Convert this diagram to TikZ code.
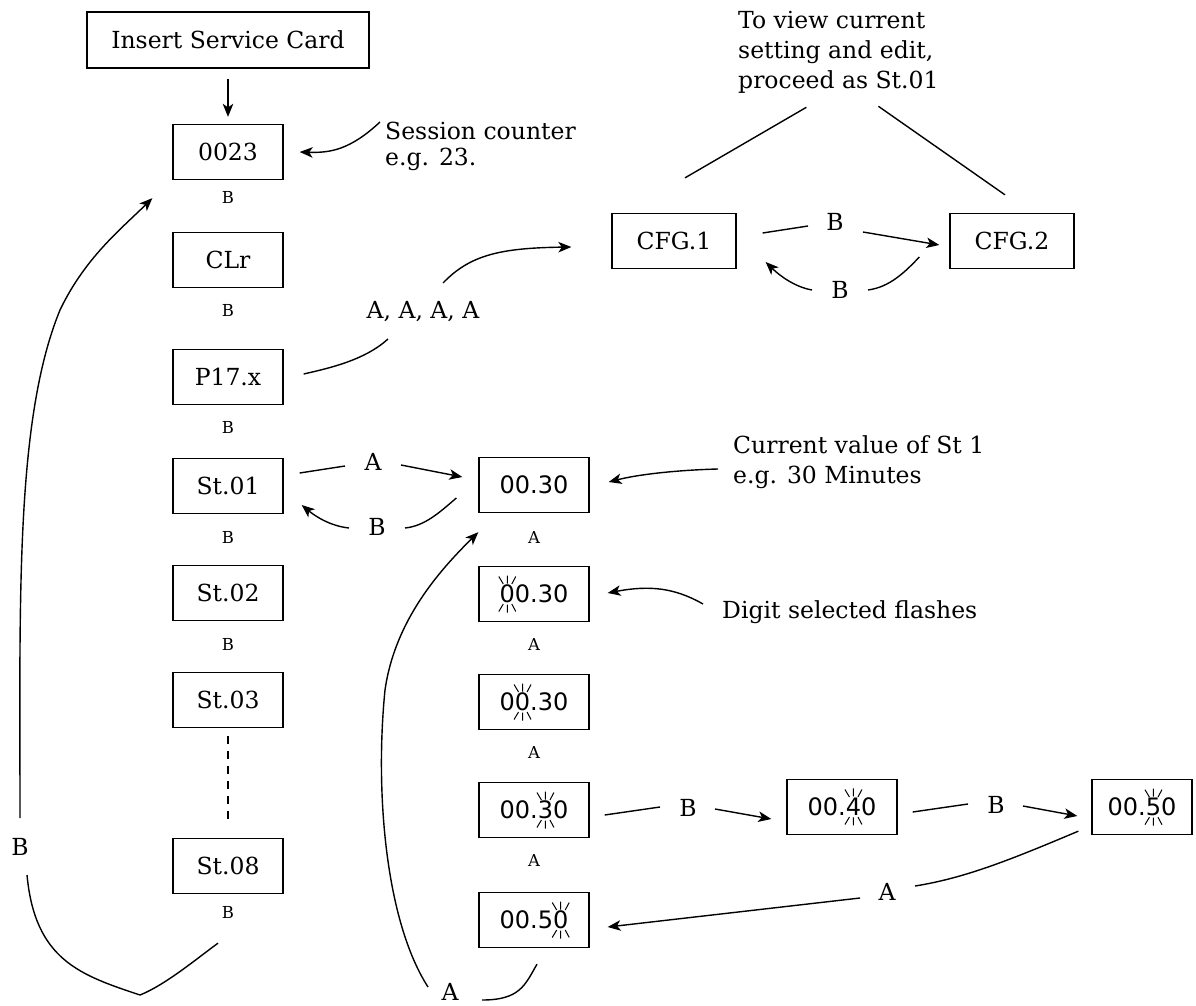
\documentclass[tikz,border=0pt]{standalone}
\usepackage{fontspec}
\setmainfont{DejaVu Serif}
\newfontfamily\dvsans{DejaVu Sans}
\usetikzlibrary{arrows.meta}
\newcommand\mytxt{\fontsize{23.5}{30}\selectfont}
\newcommand\mysmall{\fontsize{16.5}{18}\selectfont}
\newcommand\mydig{\dvsans\fontsize{24}{28}\selectfont}
\newcommand\flash[1]{\tikz[baseline=(fd.base),x=1pt,y=1pt]{\node[shape=rectangle,inner sep=0pt,outer sep=0pt,draw=none,fill=none,minimum width=0pt,minimum height=0pt,anchor=center](fd){#1};\draw[overlay,line width=1pt,shift={(fd.center)}] (-8.5,17.5)--(-4,10) (0,18.5)--(0,10.5) (8.5,17.5)--(4.5,10) (-8.5,-17.5)--(-4,-10) (0,-18.5)--(0,-10.5) (8.5,-17.5)--(4.5,-10);}}
\begin{document}
\begin{tikzpicture}[x=1pt,y=-1pt,
  box/.style={draw,line width=1.3pt,minimum width=110pt,minimum height=55pt,inner sep=0pt,font=\mytxt},
  dbox/.style={box,font=\mydig},
  txt/.style={font=\mytxt,inner sep=0pt},
  sm/.style={font=\mysmall,inner sep=0pt},
  conn/.style={line width=1.4pt},
  arr/.style={conn,-{Stealth[length=13pt,width=10.5pt,inset=3.5pt]}}]
\useasboundingbox (0,0) rectangle (1196,1006);
% left column
\node[box,minimum width=282pt,minimum height=56pt] (ins) at (228,40) {Insert Service Card};
\node[box] (c23) at (228,152) {0023};
\node[box] (clr) at (228,260) {CLr};
\node[box] (p17) at (228,377) {P17.x};
\node[box] (st1) at (228,486) {St.01};
\node[box] (st2) at (228,593) {St.02};
\node[box] (st3) at (228,700) {St.03};
\node[box] (st8) at (228,866) {St.08};
\node[sm] (bl1) at (228,197) {B};
\node[sm] (bl2) at (228,310) {B};
\node[sm] (bl3) at (228,427) {B};
\node[sm] (bl4) at (228,537) {B};
\node[sm] (bl5) at (228,644) {B};
\node[sm] (bl8) at (228,912) {B};
% right column
\node[dbox] (v1) at (534,485) {00.30};
\node[dbox] (v2) at (534,594) {\flash{0}0.30};
\node[dbox] (v3) at (534,702) {0\flash{0}.30};
\node[dbox] (v4) at (534,810) {00.\flash{3}0};
\node[dbox] (v5) at (534,920) {00.5\flash{0}};
\node[dbox] (r40) at (842,807) {00.\flash{4}0};
\node[dbox,minimum width=100pt] (r50) at (1142,807) {00.\flash{5}0};
\node[sm] (al1) at (534,537) {A};
\node[sm] (al2) at (534,644) {A};
\node[sm] (al3) at (534,752) {A};
\node[sm] (al4) at (534,860) {A};
% config
\node[box,minimum width=124pt] (cfg1) at (674,241) {CFG.1};
\node[box,minimum width=124pt] (cfg2) at (1012,241) {CFG.2};
% annotations
\node[txt,align=left,anchor=west,font=\fontsize{23.5}{26}\selectfont] (sess) at (385,146) {Session counter\\e.g. 23.};
\node[txt,align=left,anchor=west] (tov) at (738,52) {To view current\\setting and edit,\\proceed as St.01};
\node[txt,align=left,anchor=west] (cur) at (733,462) {Current value of St 1\\e.g. 30 Minutes};
\node[txt,anchor=west] (dig) at (722,612) {Digit selected flashes};
\node[txt] (aaaa) at (423,312) {A, A, A, A};
\node[txt] (eA1) at (373,462) {A};
\node[txt] (eB1) at (377,527) {B};
\node[txt] (cB1) at (835,222) {B};
\node[txt] (cB2) at (840,290) {B};
\node[txt] (rB1) at (688,808) {B};
\node[txt] (rB2) at (996,805) {B};
\node[txt] (rA) at (887,892) {A};
\node[txt] (bigA) at (450,992) {A};
\node[txt] (bigB) at (20,847) {B};
% connectors
\draw[arr] ([yshift=-10pt]ins.south) -- ([yshift=7pt]c23.north);
\draw[conn,dashed,dash pattern=on 8pt off 7pt] ([yshift=-8pt]st3.south) -- ([yshift=18pt]st8.north);
\draw[arr] ([shift={(-5,-24)}]sess.west) .. controls (350,150) and (330,153) .. ([xshift=16pt]c23.east);
\draw[conn] ([shift={(-32,14)}]tov.south) -- ([shift={(11,-35)}]cfg1.north);
\draw[conn] ([shift={(40,13)}]tov.south) -- ([shift={(-7,-18)}]cfg2.north);
% A,A,A,A
\draw[conn] ([shift={(20,-3)}]p17.east) .. controls (330,368) and (365,360) .. ([shift={(-35,27)}]aaaa.center);
\draw[arr] ([shift={(20,-29)}]aaaa.center) .. controls (470,255) and (500,248) .. ([shift={(-40,6)}]cfg1.west);
% CFG
\draw[conn] ([shift={(26,-8)}]cfg1.east) -- ([shift={(-27,4)}]cB1.center);
\draw[arr] ([shift={(28,10)}]cB1.center) -- ([shift={(-10,4)}]cfg2.west);
\draw[conn] ([shift={(-30,16)}]cfg2.west) .. controls (905,272) and (890,287) .. ([xshift=28pt]cB2.center);
\draw[arr] ([xshift=-28pt]cB2.center) .. controls (795,287) and (780,276) .. ([shift={(29,21)}]cfg1.east);
% St.01 <-> 00.30
\draw[conn] ([shift={(16,-13)}]st1.east) -- ([shift={(-28,4)}]eA1.center);
\draw[arr] ([shift={(28,3)}]eA1.center) -- ([shift={(-16,-8)}]v1.west);
\draw[conn] ([shift={(-22,13)}]v1.west) .. controls (440,512) and (425,526) .. ([shift={(28,1)}]eB1.center);
\draw[arr] ([shift={(-28,1)}]eB1.center) .. controls (330,526) and (315,516) .. ([shift={(18,19)}]st1.east);
% notes
\draw[arr] ([shift={(-15,7)}]cur.west) .. controls (680,470) and (640,474) .. ([shift={(19,-3)}]v1.east);
\draw[arr] ([shift={(-19,-8)}]dig.west) .. controls (675,588) and (650,585) .. ([shift={(18,-1)}]v2.east);
% digit edit
\draw[conn] ([shift={(15,5)}]v4.east) -- ([shift={(-28,-1)}]rB1.center);
\draw[arr] ([shift={(27,1)}]rB1.center) -- ([shift={(-15,12)}]r40.west);
\draw[conn] ([shift={(15,5)}]r40.east) -- ([shift={(-28,-1)}]rB2.center);
\draw[arr] ([shift={(27,1)}]rB2.center) -- ([shift={(-14,9)}]r50.west);
\draw[conn] ([shift={(-13,-4)}]r50.south west) .. controls (1010,860) and (965,878) .. ([shift={(28,-6)}]rA.center);
\draw[arr] ([shift={(-27,6)}]rA.center) -- ([shift={(18,7)}]v5.east);
% big A loop
\draw[conn] ([shift={(3,16)}]v5.south) .. controls (525,985) and (520,1000) .. ([shift={(32,8)}]bigA.center);
\draw[arr] ([shift={(-22,-5)}]bigA.center) .. controls (385,920) and (375,790) .. (385,690) .. controls (395,620) and (440,570) .. ([yshift=-19pt]v1.south west);
% big B loop
\draw[arr] ([yshift=29pt]bigB.center) .. controls (20,600) and (15,420) .. (60,310) .. controls (85,258) and (120,230) .. ([shift={(-20,18)}]c23.south west);
\draw[conn] ([shift={(7,28)}]bigB.center) .. controls (35,960) and (80,975) .. (140,995) .. controls (165,985) and (195,960) .. ([shift={(-10,49)}]st8.south);
\end{tikzpicture}
\end{document}
